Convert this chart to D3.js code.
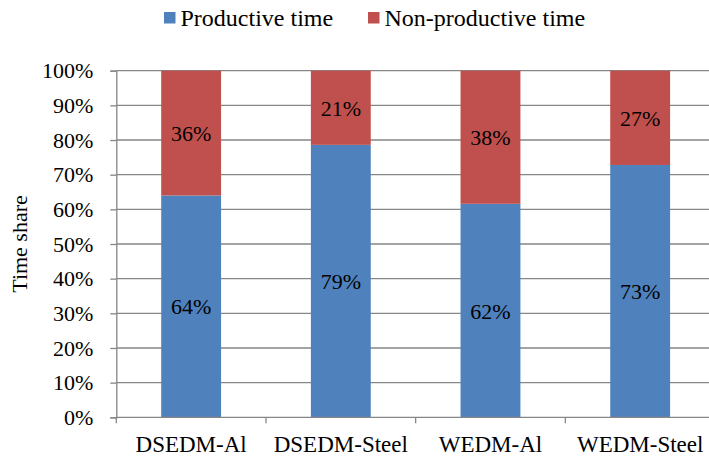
<!DOCTYPE html>
<html>
<head>
<meta charset="utf-8">
<script src="https://cdn.jsdelivr.net/npm/d3@7"></script>
<style>
  html, body { margin: 0; padding: 0; background: #fff; }
  svg { display: block; }
</style>
</head>
<body>
<svg id="chart" width="709" height="460"></svg>
<script>
const categories = ["DSEDM-Al", "DSEDM-Steel", "WEDM-Al", "WEDM-Steel"];
const productive = [64.0, 78.6, 61.6, 72.8];
const nonProductive = [36.0, 21.4, 38.4, 27.2];
const seriesNames = ["Productive time", "Non-productive time"];
const seriesColors = ["#4F81BD", "#C0504D"];
const yTicks = [0, 10, 20, 30, 40, 50, 60, 70, 80, 90, 100];

(function () {
const FONT = "Liberation Serif";
const svg = d3.select("#chart");
const mLeft = 116.3, mRight = 715, mTop = 70.7, mBottom = 417.3;

const x = d3.scaleBand().domain(categories).range([mLeft, mRight]).paddingInner(0.6).paddingOuter(0.3);
const xb = d3.scaleBand().domain(categories).range([mLeft, mRight]).padding(0);
const y = d3.scaleLinear().domain([0, 100]).range([mBottom, mTop]);

// gridlines
svg.append("g").selectAll("line").data(yTicks.filter(d => d > 0)).join("line")
  .attr("x1", mLeft).attr("x2", mRight)
  .attr("y1", d => y(d)).attr("y2", d => y(d))
  .attr("stroke", "#868686").attr("stroke-width", 1.3);

// stacked bars
const rows = categories.map((c, i) => ({cat: c, p: productive[i], n: nonProductive[i]}));
const stack = d3.stack().keys(["p", "n"])(rows);
const gBars = svg.append("g");
stack.forEach((layer, li) => {
  gBars.append("g").attr("fill", seriesColors[li]).selectAll("rect").data(layer).join("rect")
    .attr("x", d => x(d.data.cat))
    .attr("width", x.bandwidth())
    .attr("y", d => y(d[1]))
    .attr("height", d => y(d[0]) - y(d[1]));
  gBars.append("g").selectAll("text").data(layer).join("text")
    .attr("x", d => x(d.data.cat) + x.bandwidth() / 2)
    .attr("y", d => (y(d[0]) + y(d[1])) / 2 + 3)
    .attr("text-anchor", "middle")
    .attr("dominant-baseline", "middle")
    .attr("font-family", FONT)
    .attr("font-size", 22)
    .attr("fill", "#000")
    .text(d => Math.round(d[1] - d[0]) + "%");
});

// y axis
const yAxis = d3.axisLeft(y).tickValues(yTicks).tickFormat(d => d + "%").tickSize(6).tickPadding(17);
const gy = svg.append("g").attr("transform", `translate(${mLeft},0)`).call(yAxis);
gy.select(".domain").attr("stroke", "#868686").attr("stroke-width", 1.3);
gy.selectAll(".tick line").attr("stroke", "#868686").attr("stroke-width", 1.3);
gy.selectAll(".tick text").attr("font-size", 22).attr("font-family", FONT).attr("fill", "#000");

// x axis
const gx = svg.append("g").attr("transform", `translate(0,${mBottom})`);
gx.append("line").attr("x1", mLeft).attr("x2", mRight).attr("stroke", "#868686").attr("stroke-width", 1.3);
gx.selectAll("line.tk").data(categories).join("line").attr("class", "tk")
  .attr("x1", d => xb(d) + xb.bandwidth()).attr("x2", d => xb(d) + xb.bandwidth())
  .attr("y1", 0).attr("y2", 6).attr("stroke", "#868686").attr("stroke-width", 1.3);
gx.append("line").attr("x1", mLeft).attr("x2", mLeft).attr("y1", 0).attr("y2", 6)
  .attr("stroke", "#868686").attr("stroke-width", 1.3);
gx.selectAll("text").data(categories).join("text")
  .attr("x", d => xb(d) + xb.bandwidth() / 2)
  .attr("y", 35)
  .attr("text-anchor", "middle")
  .attr("font-family", FONT)
  .attr("font-size", 23)
  .attr("fill", "#000")
  .text(d => d);

// y title
svg.append("text").attr("transform", `translate(27,${(mTop + mBottom) / 2}) rotate(-90)`)
  .attr("text-anchor", "middle").attr("font-family", FONT).attr("font-size", 22).attr("fill", "#000").text("Time share");

// legend
const legendItems = [{name: seriesNames[0], color: seriesColors[0], x: 164}, {name: seriesNames[1], color: seriesColors[1], x: 368}];
const lg = svg.append("g");
legendItems.forEach(it => {
  lg.append("rect").attr("x", it.x).attr("y", 12).attr("width", 11.5).attr("height", 11.5).attr("fill", it.color);
  lg.append("text").attr("x", it.x + 16.5).attr("y", 26).attr("font-family", FONT).attr("font-size", 24).attr("fill", "#000").text(it.name);
});
})();
</script>
</body>
</html>
